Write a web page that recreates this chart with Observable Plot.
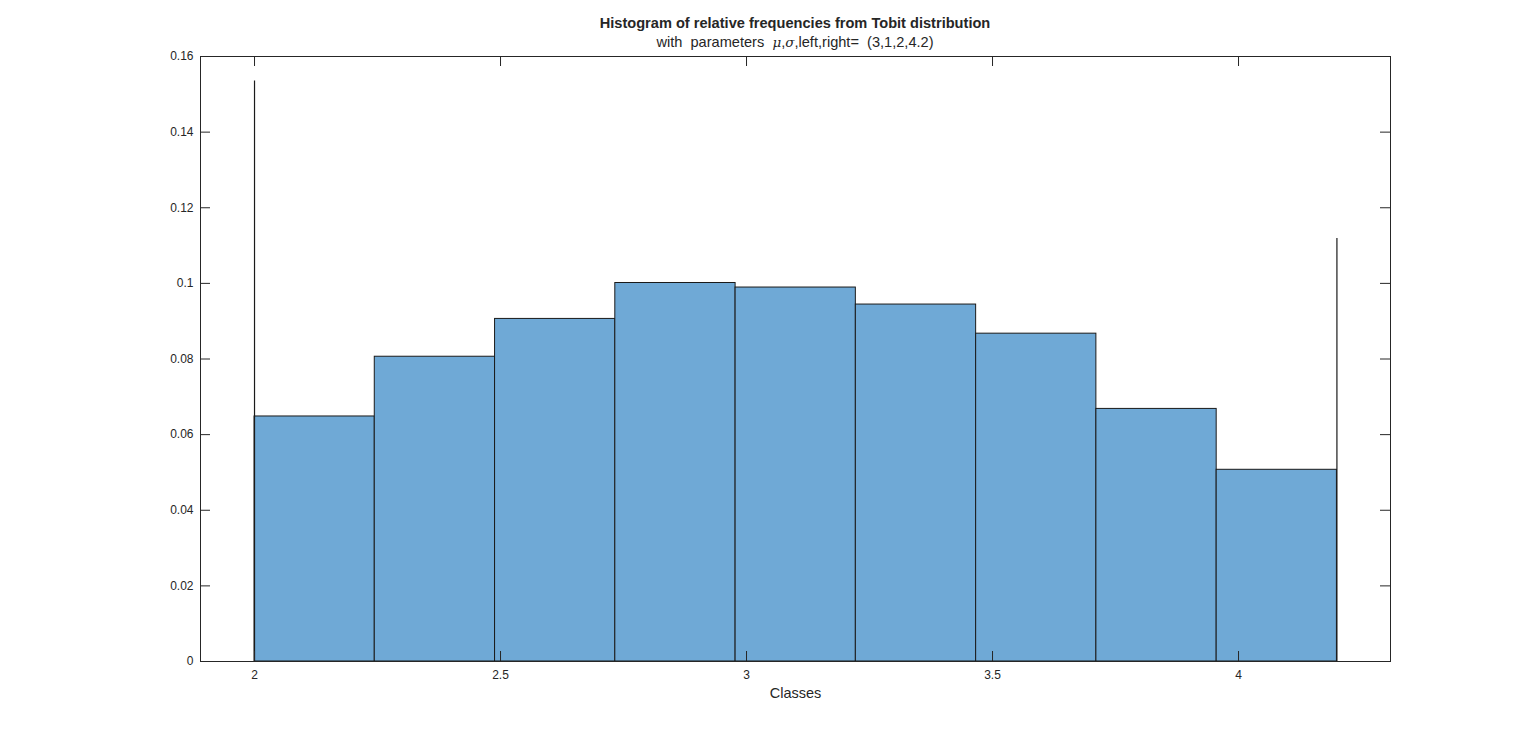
<!DOCTYPE html>
<html>
<head>
<meta charset="utf-8">
<script src="https://cdn.jsdelivr.net/npm/d3@7"></script>
<script src="https://cdn.jsdelivr.net/npm/@observablehq/plot@0.6"></script>
<style>
  html, body { margin: 0; padding: 0; background: #fff; }
  #wrap { position: relative; width: 1536px; height: 744px; font-family: "Liberation Sans", Arial, Helvetica, sans-serif; color: #262626; }
  .ttl { position: absolute; left: 395px; width: 800px; text-align: center; line-height: 17px; white-space: pre; }
  #title { top: 15px; font-weight: bold; font-size: 14.6px; }
  #subtitle { top: 34px; font-size: 14.6px; }
  .gk { font-family: "DejaVu Serif", "Liberation Serif", serif; font-style: italic; font-size: 13.5px; }
</style>
</head>
<body>
<div id="wrap">
  <div id="chart"></div>
  <div class="ttl" id="title">Histogram of relative frequencies from Tobit distribution</div>
  <div class="ttl" id="subtitle">with  parameters  <span class="gk">μ</span>,<span class="gk">σ</span>,left,right=  (3,1,2,4.2)</div>
</div>
<script>
// Class edges (9 classes between left=2 and right=4.2)
const binEdges = [2, 2.2444, 2.4889, 2.7333, 2.9778, 3.2222, 3.4667, 3.7111, 3.9556, 4.2];
// Relative frequencies of each class
const relFreq = [0.0648, 0.0806, 0.0906, 0.1001, 0.0989, 0.0944, 0.0867, 0.0668, 0.0507];
// Censored point masses at the limits
const atomX = [2, 4.2];
const atomP = [0.1535, 0.1119];
// Tick values
const xTicks = [2, 2.5, 3, 3.5, 4];
const yTicks = [0, 0.02, 0.04, 0.06, 0.08, 0.1, 0.12, 0.14, 0.16];

const bars = relFreq.map((f, i) => ({x1: binEdges[i], x2: binEdges[i + 1], f}));
const atoms = atomX.map((x, i) => ({x, p: atomP[i]}));

const W = 1536, H = 744, mL = 200, mR = 146, mT = 56, mB = 83;
const innerW = W - mL - mR, innerH = H - mT - mB, tickLen = 10;
const axisColor = "#262626";

const chart = Plot.plot({
  width: W, height: H,
  marginLeft: mL, marginRight: mR, marginTop: mT, marginBottom: mB,
  x: {domain: [1.8902, 4.3089]},
  y: {domain: [0, 0.16]},
  style: {fontFamily: "'Liberation Sans', Arial, Helvetica, sans-serif", fontSize: "12px", color: axisColor, background: "#fff", overflow: "visible"},
  marks: [
    Plot.rectY(bars, {x1: "x1", x2: "x2", y: "f", fill: "rgb(111,169,214)", stroke: "#1a1a1a", strokeWidth: 1}),
    Plot.ruleX(atoms, {x: "x", y1: 0, y2: "p", stroke: "#1a1a1a", strokeWidth: 1.2}),
    Plot.frame({stroke: axisColor, strokeWidth: 1}),
    Plot.tickY(yTicks, {y: d => d, insetRight: innerW - tickLen, stroke: axisColor}),
    Plot.tickY(yTicks, {y: d => d, insetLeft: innerW - tickLen, stroke: axisColor}),
    Plot.tickX(xTicks, {x: d => d, insetBottom: innerH - tickLen, stroke: axisColor}),
    Plot.tickX(xTicks, {x: d => d, insetTop: innerH - tickLen, stroke: axisColor}),
    Plot.axisY(yTicks, {tickSize: 0, tickPadding: 7, tickFormat: d => String(+d.toFixed(2)), label: null}),
    Plot.axisX(xTicks, {tickSize: 0, tickPadding: 9, tickFormat: d => String(d), label: null}),
    Plot.axisX({tickSize: 0, ticks: [], label: "Classes", labelAnchor: "center", labelArrow: "none", labelOffset: 36, fontSize: 14.5})
  ]
});
document.getElementById("chart").appendChild(chart);
</script>
</body>
</html>
